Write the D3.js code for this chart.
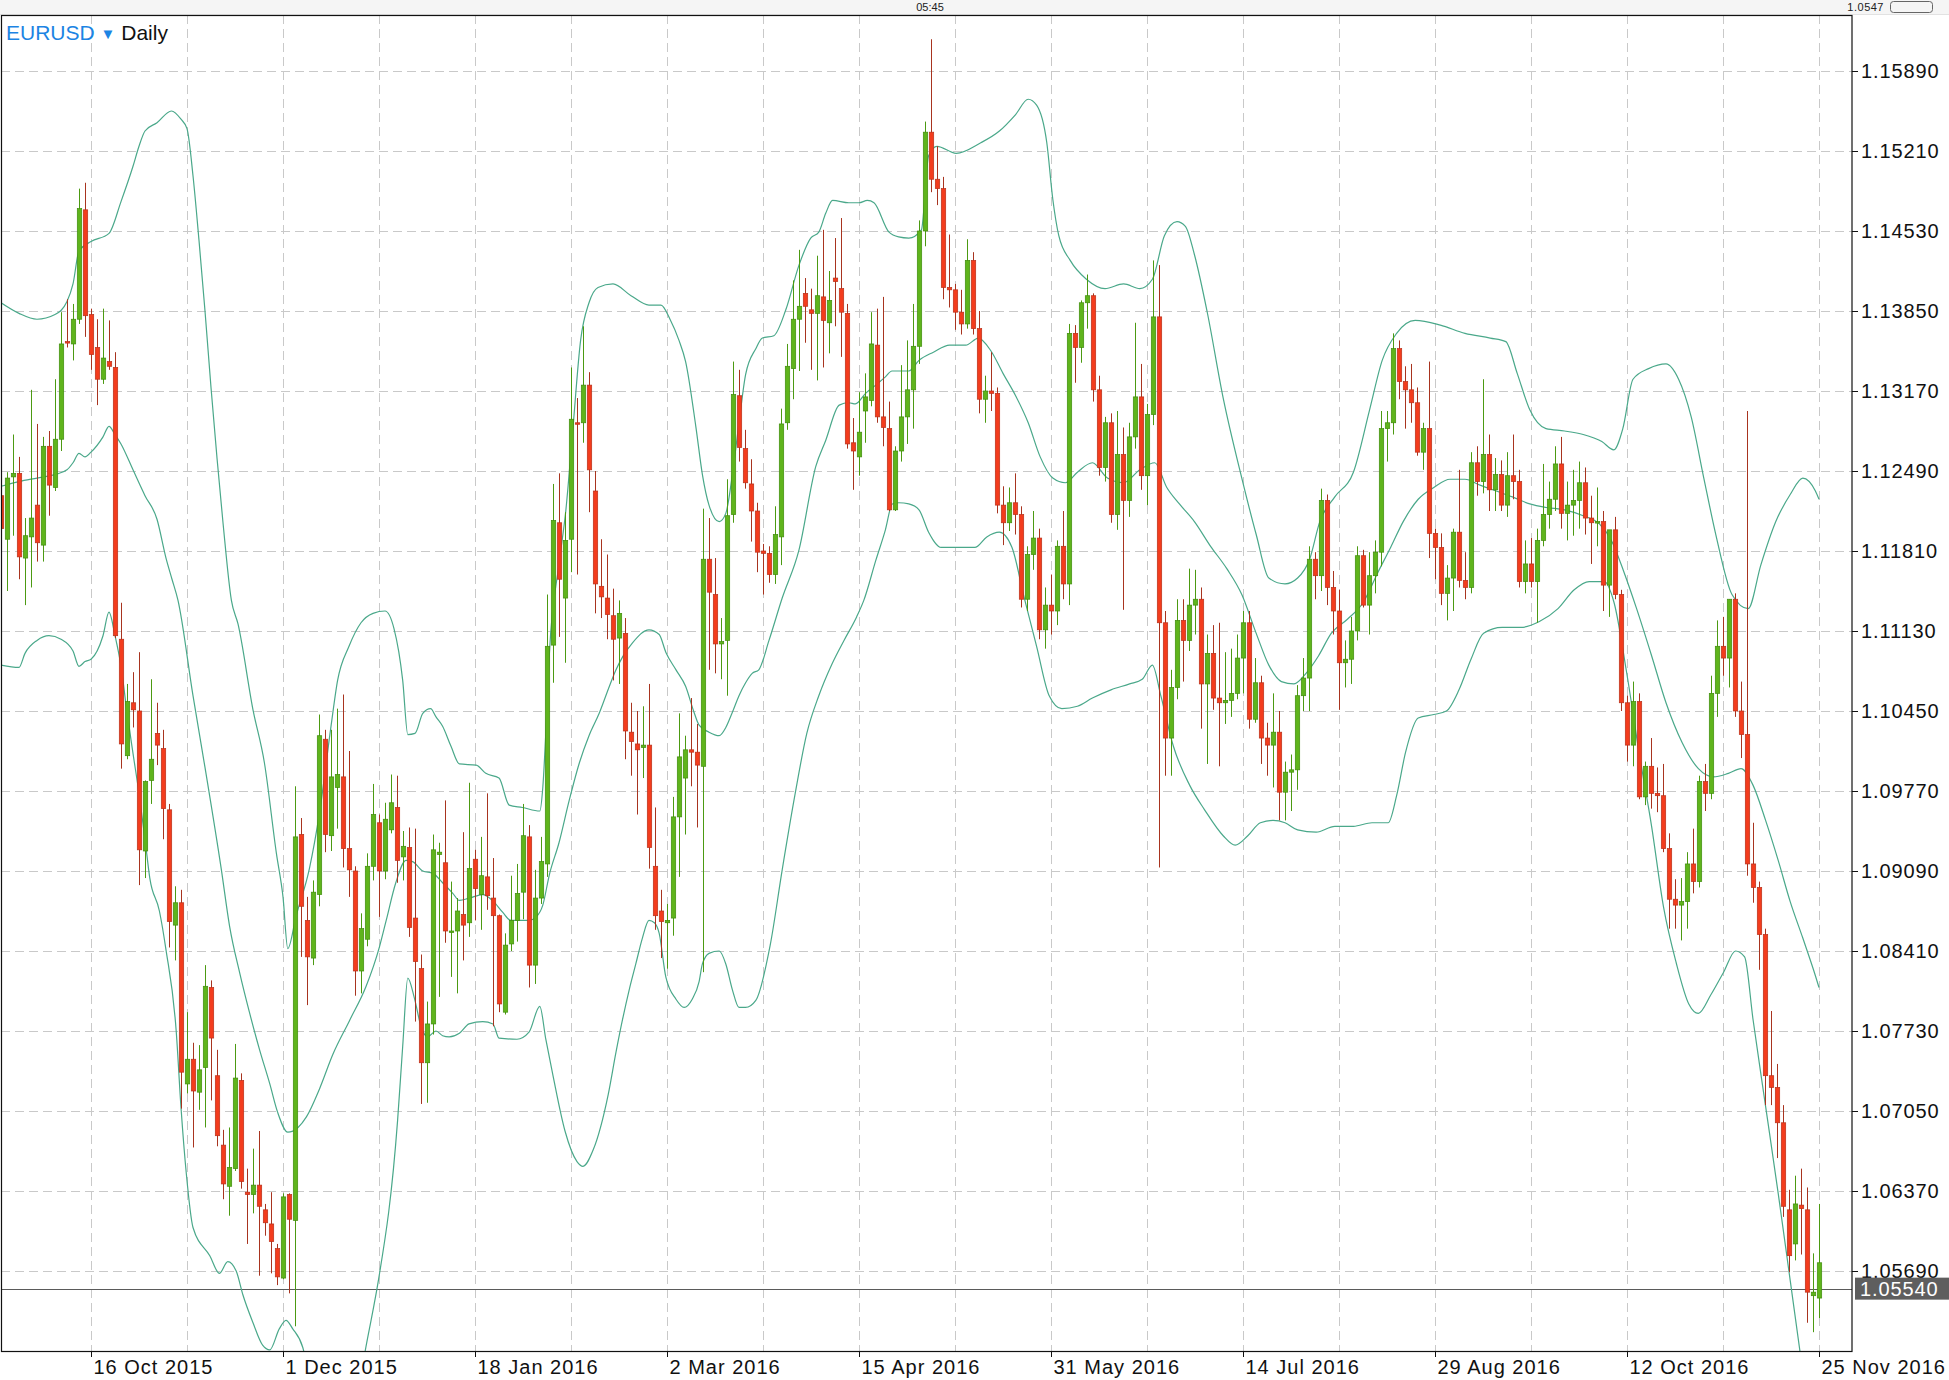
<!DOCTYPE html>
<html><head><meta charset="utf-8">
<script src="https://cdn.jsdelivr.net/npm/d3@7"></script>
<style>html,body{margin:0;padding:0;background:#fff;}svg{display:block;font-family:"Liberation Sans",Arial,sans-serif;}</style>
</head><body><svg id="chart" width="1949" height="1380"></svg>
<script>
const symbol = "EURUSD";
const timeframe = "Daily";
const yTicks = [1.15890,1.15210,1.14530,1.13850,1.13170,1.12490,1.11810,1.11130,1.10450,1.09770,1.09090,1.08410,1.07730,1.07050,1.06370,1.05690];
const xTickBars = [15,47,79,111,143,175,207,239,271,303];
const xTickLabels = ["16 Oct 2015","1 Dec 2015","18 Jan 2016","2 Mar 2016","15 Apr 2016","31 May 2016","14 Jul 2016","29 Aug 2016","12 Oct 2016","25 Nov 2016"];
const lastPrice = 1.05540;
const headerTime = "05:45";
const headerPrice = "1.0547";
// daily candles [open, high, low, close], 25 Sep 2015 .. 25 Nov 2016
const candles = [
[1.1228,1.1241,1.1118,1.1200],[1.1191,1.1248,1.1147,1.1243],[1.1244,1.1280,1.1194,1.1247],[1.1247,1.1261,1.1157,1.1176],[1.1175,1.1209,1.1135,1.1194],
[1.1193,1.1318,1.1150,1.1209],[1.1220,1.1289,1.1172,1.1188],[1.1186,1.1278,1.1172,1.1270],[1.1270,1.1283,1.1211,1.1237],[1.1235,1.1327,1.1232,1.1276],
[1.1276,1.1384,1.1266,1.1357],[1.1359,1.1395,1.1354,1.1358],[1.1357,1.1391,1.1343,1.1378],[1.1378,1.1489,1.1374,1.1472],[1.1471,1.1494,1.1363,1.1381],
[1.1382,1.1387,1.1335,1.1348],[1.1354,1.1378,1.1305,1.1327],[1.1327,1.1387,1.1323,1.1345],[1.1342,1.1377,1.1335,1.1338],[1.1337,1.1350,1.1107,1.1109],
[1.1106,1.1137,1.0996,1.1017],[1.1007,1.1068,1.1004,1.1053],[1.1052,1.1078,1.1031,1.1046],[1.1045,1.1095,1.0897,1.0927],[1.0926,1.0986,1.0903,1.0985],
[1.0986,1.1072,1.0966,1.1004],[1.1026,1.1052,1.0999,1.1016],[1.1013,1.1029,1.0936,1.0962],[1.0961,1.0966,1.0844,1.0866],[1.0863,1.0896,1.0833,1.0882],
[1.0882,1.0893,1.0707,1.0738],[1.0728,1.0789,1.0720,1.0749],[1.0749,1.0763,1.0674,1.0722],[1.0721,1.0761,1.0706,1.0740],[1.0742,1.0829,1.0691,1.0811],
[1.0810,1.0816,1.0714,1.0767],[1.0735,1.0757,1.0675,1.0684],[1.0676,1.0689,1.0630,1.0643],[1.0641,1.0691,1.0616,1.0657],[1.0656,1.0762,1.0654,1.0733],
[1.0731,1.0737,1.0639,1.0645],[1.0636,1.0656,1.0592,1.0634],[1.0634,1.0673,1.0618,1.0642],[1.0642,1.0688,1.0565,1.0624],[1.0621,1.0626,1.0599,1.0610],
[1.0609,1.0636,1.0567,1.0594],[1.0588,1.0592,1.0557,1.0564],[1.0563,1.0635,1.0562,1.0632],[1.0634,1.0635,1.0550,1.0613],[1.0612,1.0981,1.0522,1.0938],
[1.0940,1.0954,1.0836,1.0879],[1.0867,1.0887,1.0795,1.0836],[1.0835,1.0901,1.0829,1.0891],[1.0889,1.1042,1.0879,1.1024],[1.1021,1.1029,1.0925,1.0940],
[1.0939,1.1029,1.0926,1.0989],[1.0980,1.1047,1.0945,1.0991],[1.0989,1.1059,1.0912,1.0928],[1.0928,1.1011,1.0887,1.0910],[1.0909,1.0913,1.0803,1.0824],
[1.0824,1.0873,1.0805,1.0860],[1.0851,1.0924,1.0845,1.0913],[1.0913,1.0983,1.0901,1.0957],[1.0950,1.0957,1.0870,1.0909],[1.0909,1.0967,1.0902,1.0953],
[1.0944,1.0991,1.0941,1.0967],[1.0963,1.0990,1.0899,1.0918],[1.0921,1.0943,1.0901,1.0930],[1.0929,1.0946,1.0853,1.0861],[1.0869,1.0945,1.0781,1.0832],
[1.0826,1.0838,1.0711,1.0746],[1.0746,1.0798,1.0712,1.0779],[1.0779,1.0940,1.0770,1.0927],[1.0923,1.0933,1.0802,1.0925],[1.0916,1.0969,1.0848,1.0858],
[1.0857,1.0900,1.0819,1.0858],[1.0858,1.0886,1.0805,1.0875],[1.0872,1.0942,1.0833,1.0863],[1.0865,1.0984,1.0853,1.0911],[1.0919,1.0927,1.0867,1.0894],
[1.0889,1.0938,1.0859,1.0905],[1.0904,1.0975,1.0876,1.0888],[1.0886,1.0920,1.0777,1.0871],[1.0871,1.0872,1.0789,1.0796],[1.0789,1.0856,1.0787,1.0846],
[1.0847,1.0905,1.0841,1.0867],[1.0867,1.0915,1.0849,1.0890],[1.0891,1.0966,1.0868,1.0939],[1.0938,1.0948,1.0810,1.0829],[1.0829,1.0910,1.0813,1.0886],
[1.0886,1.0938,1.0881,1.0917],[1.0915,1.1144,1.0904,1.1100],[1.1101,1.1238,1.1069,1.1207],[1.1205,1.1247,1.1108,1.1157],[1.1141,1.1214,1.1086,1.1190],
[1.1191,1.1337,1.1163,1.1293],[1.1290,1.1311,1.1161,1.1289],[1.1290,1.1372,1.1273,1.1322],[1.1322,1.1333,1.1214,1.1250],[1.1232,1.1249,1.1128,1.1153],
[1.1151,1.1191,1.1124,1.1142],[1.1141,1.1178,1.1106,1.1127],[1.1126,1.1149,1.1071,1.1106],[1.1107,1.1139,1.1068,1.1128],[1.1111,1.1124,1.1004,1.1028],
[1.1027,1.1052,1.0990,1.1019],[1.1017,1.1045,1.0957,1.1012],[1.1014,1.1049,1.0988,1.1016],[1.1016,1.1068,1.0911,1.0929],[1.0913,1.0963,1.0859,1.0871],
[1.0875,1.0893,1.0835,1.0866],[1.0865,1.0881,1.0826,1.0867],[1.0869,1.0972,1.0854,1.0955],[1.0955,1.1043,1.0904,1.1006],[1.0988,1.1024,1.0940,1.1012],
[1.1012,1.1056,1.0981,1.1010],[1.1010,1.1034,1.0946,1.0999],[1.0998,1.1217,1.0823,1.1174],[1.1174,1.1209,1.1080,1.1146],[1.1144,1.1175,1.1077,1.1102],
[1.1102,1.1124,1.1072,1.1104],[1.1105,1.1242,1.1058,1.1211],[1.1212,1.1342,1.1205,1.1314],[1.1313,1.1335,1.1257,1.1269],[1.1268,1.1284,1.1234,1.1239],
[1.1238,1.1259,1.1189,1.1215],[1.1215,1.1222,1.1163,1.1180],[1.1181,1.1187,1.1144,1.1179],[1.1179,1.1185,1.1154,1.1161],[1.1161,1.1219,1.1153,1.1195],
[1.1193,1.1302,1.1169,1.1289],[1.1290,1.1357,1.1284,1.1338],[1.1336,1.1411,1.1310,1.1378],[1.1378,1.1437,1.1334,1.1389],[1.1400,1.1413,1.1358,1.1389],
[1.1386,1.1404,1.1335,1.1383],[1.1383,1.1432,1.1326,1.1398],[1.1397,1.1454,1.1337,1.1377],[1.1375,1.1419,1.1349,1.1394],[1.1413,1.1447,1.1372,1.1410],
[1.1404,1.1464,1.1346,1.1384],[1.1383,1.1391,1.1268,1.1272],[1.1273,1.1294,1.1233,1.1266],[1.1261,1.1316,1.1245,1.1282],[1.1300,1.1332,1.1273,1.1312],
[1.1309,1.1384,1.1304,1.1357],[1.1356,1.1387,1.1290,1.1295],[1.1295,1.1397,1.1270,1.1286],[1.1285,1.1308,1.1215,1.1216],[1.1216,1.1270,1.1215,1.1266],
[1.1266,1.1339,1.1257,1.1295],[1.1295,1.1360,1.1272,1.1318],[1.1318,1.1391,1.1285,1.1355],[1.1355,1.1462,1.1340,1.1453],[1.1453,1.1546,1.1440,1.1537],
[1.1537,1.1616,1.1486,1.1497],[1.1497,1.1525,1.1475,1.1489],[1.1489,1.1499,1.1395,1.1405],[1.1405,1.1450,1.1388,1.1403],[1.1403,1.1408,1.1369,1.1384],
[1.1384,1.1403,1.1365,1.1374],[1.1374,1.1446,1.1370,1.1428],[1.1428,1.1435,1.1365,1.1370],[1.1370,1.1385,1.1298,1.1310],[1.1310,1.1330,1.1290,1.1317],
[1.1317,1.1350,1.1300,1.1315],[1.1315,1.1320,1.1213,1.1220],[1.1220,1.1236,1.1186,1.1205],[1.1205,1.1235,1.1198,1.1222],[1.1222,1.1247,1.1195,1.1212],
[1.1212,1.1219,1.1133,1.1140],[1.1140,1.1185,1.1130,1.1178],[1.1178,1.1215,1.1165,1.1192],[1.1192,1.1200,1.1106,1.1114],[1.1114,1.1150,1.1098,1.1135],
[1.1135,1.1161,1.1110,1.1130],[1.1130,1.1190,1.1118,1.1185],[1.1185,1.1215,1.1140,1.1153],[1.1153,1.1374,1.1135,1.1366],[1.1366,1.1373,1.1324,1.1354],
[1.1354,1.1394,1.1341,1.1392],[1.1392,1.1416,1.1370,1.1398],[1.1398,1.1400,1.1308,1.1318],[1.1318,1.1330,1.1245,1.1252],[1.1252,1.1295,1.1240,1.1290],
[1.1290,1.1298,1.1205,1.1212],[1.1212,1.1300,1.1199,1.1263],[1.1263,1.1286,1.1131,1.1224],[1.1224,1.1290,1.1210,1.1278],[1.1278,1.1375,1.1268,1.1312],
[1.1312,1.1340,1.1233,1.1245],[1.1245,1.1306,1.1220,1.1297],[1.1297,1.1428,1.1288,1.1380],[1.1380,1.1424,1.0912,1.1120],[1.1120,1.1130,1.0990,1.1022],
[1.1022,1.1080,1.0990,1.1065],[1.1065,1.1140,1.1055,1.1122],[1.1122,1.1140,1.1070,1.1105],[1.1105,1.1166,1.1096,1.1135],[1.1135,1.1165,1.1110,1.1140],
[1.1140,1.1150,1.1030,1.1068],[1.1068,1.1110,1.1000,1.1094],[1.1094,1.1118,1.1046,1.1056],[1.1056,1.1120,1.0998,1.1052],[1.1052,1.1095,1.1034,1.1054],
[1.1054,1.1098,1.1040,1.1060],[1.1060,1.1110,1.1055,1.1090],[1.1090,1.1130,1.1060,1.1120],[1.1120,1.1130,1.1030,1.1038],[1.1038,1.1090,1.1035,1.1069],
[1.1069,1.1075,1.1000,1.1022],[1.1022,1.1035,1.0990,1.1016],[1.1016,1.1060,1.0980,1.1027],[1.1027,1.1045,1.0952,1.0976],[1.0976,1.1002,1.0952,1.0993],
[1.0993,1.1008,1.0960,1.0995],[1.0995,1.1067,1.0978,1.1058],[1.1058,1.1090,1.1045,1.1073],[1.1073,1.1185,1.1045,1.1174],[1.1174,1.1180,1.1140,1.1160],
[1.1160,1.1234,1.1147,1.1224],[1.1224,1.1229,1.1135,1.1150],[1.1150,1.1164,1.1110,1.1130],[1.1130,1.1148,1.1046,1.1086],[1.1086,1.1105,1.1065,1.1089],
[1.1089,1.1125,1.1068,1.1113],[1.1113,1.1185,1.1105,1.1177],[1.1177,1.1182,1.1133,1.1135],[1.1135,1.1180,1.1110,1.1160],[1.1160,1.1190,1.1145,1.1180],
[1.1180,1.1300,1.1168,1.1285],[1.1285,1.1300,1.1257,1.1290],[1.1290,1.1366,1.1280,1.1353],[1.1353,1.1360,1.1310,1.1325],[1.1325,1.1338,1.1285,1.1318],
[1.1318,1.1340,1.1290,1.1307],[1.1307,1.1320,1.1262,1.1265],[1.1265,1.1290,1.1250,1.1285],[1.1285,1.1342,1.1175,1.1196],[1.1196,1.1200,1.1157,1.1184],
[1.1184,1.1196,1.1135,1.1145],[1.1145,1.1169,1.1122,1.1158],[1.1158,1.1200,1.1130,1.1197],[1.1197,1.1250,1.1150,1.1156],[1.1156,1.1180,1.1140,1.1150],
[1.1150,1.1265,1.1145,1.1256],[1.1256,1.1270,1.1228,1.1240],[1.1240,1.1327,1.1230,1.1263],[1.1263,1.1280,1.1215,1.1233],[1.1233,1.1260,1.1215,1.1246],
[1.1246,1.1258,1.1215,1.1220],[1.1220,1.1265,1.1210,1.1245],[1.1245,1.1280,1.1225,1.1240],[1.1240,1.1250,1.1150,1.1155],[1.1155,1.1190,1.1145,1.1170],
[1.1170,1.1192,1.1150,1.1155],[1.1155,1.1200,1.1120,1.1190],[1.1190,1.1255,1.1185,1.1212],[1.1212,1.1240,1.1200,1.1225],[1.1225,1.1270,1.1215,1.1255],
[1.1255,1.1278,1.1200,1.1213],[1.1213,1.1240,1.1190,1.1220],[1.1220,1.1250,1.1194,1.1224],[1.1224,1.1257,1.1200,1.1239],[1.1239,1.1252,1.1195,1.1209],
[1.1209,1.1228,1.1170,1.1205],[1.1205,1.1235,1.1185,1.1206],[1.1206,1.1215,1.1130,1.1152],[1.1152,1.1195,1.1125,1.1199],[1.1199,1.1210,1.1140,1.1144],
[1.1144,1.1148,1.1045,1.1052],[1.1052,1.1058,1.1002,1.1016],[1.1016,1.1070,1.0998,1.1053],[1.1053,1.1060,1.0970,1.0972],[1.0972,1.1002,1.0965,1.0998],
[1.0998,1.1022,1.0962,1.0975],[1.0975,1.0997,1.0959,1.0973],[1.0973,1.1000,1.0925,1.0928],[1.0928,1.0941,1.0860,1.0885],[1.0885,1.0902,1.0860,1.0880],
[1.0880,1.0903,1.0850,1.0883],[1.0883,1.0925,1.0860,1.0915],[1.0915,1.0945,1.0890,1.0900],[1.0900,1.0990,1.0895,1.0985],[1.0985,1.1000,1.0960,1.0975],
[1.0975,1.1075,1.0970,1.1060],[1.1060,1.1122,1.1040,1.1100],[1.1100,1.1125,1.1075,1.1090],[1.1090,1.1140,1.1065,1.1140],[1.1140,1.1145,1.1040,1.1045],
[1.1045,1.1070,1.1005,1.1025],[1.1025,1.1300,1.0905,1.0915],[1.0915,1.0950,1.0882,1.0895],[1.0895,1.0900,1.0825,1.0855],[1.0855,1.0860,1.0710,1.0735],
[1.0735,1.0790,1.0710,1.0725],[1.0725,1.0745,1.0665,1.0695],[1.0695,1.0710,1.0615,1.0624],[1.0621,1.0638,1.0568,1.0582],[1.0592,1.0650,1.0578,1.0626],
[1.0625,1.0656,1.0583,1.0622],[1.0621,1.0640,1.0525,1.0551],[1.0548,1.0584,1.0517,1.0551],[1.0546,1.0626,1.0529,1.0576]
];
// Bollinger bands: [bar index, value]
const bbUpper = [[0,1.1392],[3,1.1383],[6,1.1378],[9,1.1382],[11,1.1393],[12,1.1408],[13,1.1436],[15,1.1444],[18,1.1451],[20,1.1478],[22,1.1508],[23,1.1525],[24,1.1538],[26,1.1545],[28.4,1.1555],[30,1.1548],[31,1.1540],[32,1.1500],[33,1.1445],[34,1.1385],[35,1.1320],[36,1.1260],[37,1.1205],[38.4,1.1139],[39.5,1.1119],[42,1.1046],[43.9,1.1001],[45.9,1.0924],[47,1.0887],[47.8,1.0843],[49.2,1.0871],[51.4,1.0911],[53.1,1.0959],[55,1.1032],[56.1,1.1071],[58,1.1100],[60,1.1120],[62,1.1128],[64,1.1130],[65.5,1.1115],[66.95,1.1071],[67.8,1.1025],[69,1.1026],[70.3,1.1043],[71.6,1.1047],[72.5,1.1040],[73.6,1.1032],[75,1.1015],[76.4,1.1000],[79.2,1.0999],[80.8,1.0992],[83,1.0988],[84.7,1.0965],[86.9,1.0963],[89.8,1.0960],[90.3,1.0980],[90.9,1.1037],[91.4,1.1094],[93,1.1170],[94.15,1.1216],[95.3,1.1284],[96.6,1.1360],[98,1.1392],[99.5,1.1405],[102,1.1408],[105,1.1398],[108,1.1390],[110,1.1390],[111.5,1.1378],[113,1.1360],[114.1,1.1342],[115.8,1.1287],[116.9,1.1246],[118,1.1220],[119.7,1.1206],[120.8,1.1213],[122,1.1250],[123,1.1290],[124.1,1.1331],[125.8,1.1353],[126.9,1.1362],[128.8,1.1364],[130.8,1.1386],[133,1.1424],[134.95,1.1447],[136.3,1.1452],[137.45,1.1468],[138.6,1.1479],[141.3,1.1477],[143,1.1477],[144.4,1.1479],[145.5,1.1477],[148,1.1452],[149.6,1.1448],[151.3,1.1447],[153.4,1.1454],[154.6,1.1517],[156,1.1525],[159.2,1.1519],[163.3,1.1528],[166.4,1.1538],[169.1,1.1552],[171.2,1.1565],[172.6,1.1560],[174.3,1.1528],[175.3,1.1480],[176.3,1.1449],[178.2,1.1428],[180.9,1.1412],[184,1.1404],[187.1,1.1408],[189.8,1.1404],[191.9,1.1412],[193.9,1.1449],[196,1.1461],[197.4,1.1457],[198.9,1.1433],[201,1.1385],[203.7,1.1311],[206.8,1.1243],[209.2,1.1195],[211.3,1.1158],[214,1.1153],[216.1,1.1158],[218.1,1.1174],[219.8,1.1206],[222.3,1.1227],[225.4,1.1248],[228.1,1.1301],[230.2,1.1343],[232.6,1.1366],[235.7,1.1377],[239.9,1.1373],[244,1.1366],[248.2,1.1362],[250.8,1.1359],[252.7,1.1332],[254.8,1.1301],[257.5,1.1285],[260.6,1.1283],[263.7,1.1280],[266.8,1.1274],[268.8,1.1267],[270.3,1.1285],[272,1.1327],[274.6,1.1336],[277.5,1.1340],[279.6,1.1327],[281.7,1.1295],[283.8,1.1243],[285.8,1.1195],[288.5,1.1144],[291.2,1.1132],[293.3,1.1169],[295.8,1.1206],[298.2,1.1229],[300.3,1.1243],[302.4,1.1232],[303,1.1225]];
const bbMiddle = [[0,1.1236],[3,1.1240],[6,1.1243],[9,1.1246],[11,1.1250],[12,1.1256],[13,1.1264],[14,1.1261],[15,1.1265],[17,1.1278],[18,1.1287],[19,1.1280],[20,1.1272],[22,1.1250],[24,1.1228],[26,1.1208],[27.5,1.1175],[28.5,1.1157],[29.5,1.1139],[32,1.1058],[34,1.0997],[36.7,1.0911],[38.1,1.0862],[39.8,1.0822],[41.4,1.0789],[43.1,1.0757],[44.8,1.0728],[46.1,1.0704],[47.8,1.0687],[49.5,1.0691],[50.9,1.0700],[53.1,1.0724],[55.3,1.0753],[58.1,1.0782],[60.85,1.0811],[63.1,1.0845],[64.2,1.0867],[65.8,1.0899],[67.5,1.0918],[68.6,1.0917],[70.3,1.0909],[72,1.0907],[73.6,1.0899],[75.3,1.0890],[76.4,1.0884],[78.05,1.0886],[80.3,1.0889],[81.9,1.0884],[83.6,1.0874],[85,1.0867],[88,1.0867],[89.2,1.0870],[90.3,1.0880],[91.4,1.0906],[93,1.0933],[94.7,1.0969],[96.4,1.1001],[98,1.1024],[99.7,1.1043],[101.4,1.1066],[102.5,1.1080],[103.6,1.1091],[105.25,1.1103],[108,1.1114],[109.7,1.1110],[110.8,1.1095],[112.5,1.1080],[114.1,1.1066],[115.5,1.1044],[116.35,1.1033],[118,1.1027],[119.7,1.1024],[120.8,1.1031],[121.9,1.1044],[123,1.1058],[124.1,1.1069],[125.2,1.1077],[126.3,1.1080],[128,1.1105],[130.2,1.1141],[133,1.1182],[135.8,1.1253],[137.45,1.1275],[139.7,1.1305],[141.3,1.1307],[142.4,1.1306],[144.1,1.1315],[145.8,1.1322],[147.4,1.1329],[148.5,1.1334],[151.3,1.1334],[153,1.1343],[155.4,1.1350],[158.1,1.1356],[160.8,1.1356],[162.9,1.1362],[165,1.1351],[167,1.1332],[169.1,1.1313],[171.2,1.1290],[173.2,1.1261],[175.3,1.1243],[177.4,1.1239],[179.4,1.1248],[181.9,1.1256],[184.4,1.1243],[187.1,1.1239],[189.8,1.1250],[192.3,1.1256],[194.3,1.1235],[196.4,1.1221],[198.9,1.1206],[201.6,1.1185],[204.3,1.1166],[206.8,1.1144],[209.2,1.1111],[211.3,1.1084],[213.4,1.1070],[215.5,1.1068],[217.5,1.1077],[219.6,1.1092],[221.7,1.1111],[224.4,1.1123],[227,1.1137],[229.5,1.1163],[231.6,1.1184],[233.7,1.1206],[236.2,1.1225],[238.8,1.1235],[241.5,1.1242],[244,1.1242],[246.5,1.1237],[249.2,1.1232],[251.9,1.1227],[254.8,1.1221],[257.5,1.1218],[260.6,1.1216],[263.7,1.1211],[266.4,1.1204],[268.4,1.1190],[270.5,1.1163],[272.6,1.1132],[275.1,1.1092],[277.5,1.1052],[280.2,1.1018],[282.9,1.0996],[285.4,1.0989],[287.9,1.0992],[290,1.0996],[292,1.0982],[294.1,1.0952],[296.2,1.0918],[298.2,1.0883],[300.3,1.0852],[302.4,1.0820],[303,1.0810]];
const bbLower = [[0,1.1084],[3,1.1082],[4,1.1094],[6,1.1105],[8,1.1109],[10,1.1106],[12,1.1096],[13,1.1083],[14,1.1087],[15,1.1089],[17,1.1109],[18,1.1129],[19,1.1109],[20,1.1083],[21,1.1044],[22,1.1009],[23,1.0975],[24,1.0936],[24.8,1.0903],[26.4,1.0875],[27.5,1.0842],[29.2,1.0773],[30,1.0708],[30.9,1.0651],[32,1.0606],[34.8,1.0582],[36.4,1.0567],[37.8,1.0577],[39.2,1.0569],[40.3,1.0549],[42,1.0525],[43.6,1.0506],[44.8,1.0502],[46.4,1.0520],[47.5,1.0527],[48.6,1.0520],[50.3,1.0504],[52,1.0460],[55,1.0400],[58,1.0410],[60.7,1.0501],[61.9,1.0533],[62.9,1.0561],[66.1,1.0697],[66.95,1.0760],[67.8,1.0818],[68.9,1.0801],[70,1.0777],[71.1,1.0768],[72.5,1.0773],[73.6,1.0769],[74.7,1.0768],[76.4,1.0771],[78,1.0779],[80.3,1.0781],[82,1.0779],[83,1.0767],[86,1.0766],[88,1.0772],[89.8,1.0794],[90.8,1.0766],[92,1.0735],[94,1.0688],[96,1.0662],[97,1.0658],[98.7,1.0672],[101.2,1.0719],[102.5,1.0755],[103.6,1.0783],[104.7,1.0808],[105.8,1.0830],[106.9,1.0852],[108,1.0867],[108.9,1.0865],[109.7,1.0856],[110.8,1.0819],[112.5,1.0800],[113.85,1.0793],[115.2,1.0800],[116.35,1.0815],[116.9,1.0830],[118,1.0839],[119.7,1.0841],[120.8,1.0830],[121.9,1.0808],[123,1.0793],[124.1,1.0793],[125.8,1.0799],[128.2,1.0846],[130.2,1.0910],[132.3,1.0973],[134.3,1.1026],[136.3,1.1058],[138.5,1.1085],[140.5,1.1105],[142.6,1.1125],[143.8,1.1139],[145.8,1.1173],[147.4,1.1199],[148.55,1.1221],[149.65,1.1222],[151.3,1.1221],[153,1.1216],[154.6,1.1197],[156.7,1.1184],[159.2,1.1184],[162.3,1.1184],[164.3,1.1193],[166.4,1.1197],[168.5,1.1184],[170.5,1.1142],[172.6,1.1100],[174.7,1.1058],[176.8,1.1047],[179.4,1.1049],[181.9,1.1056],[185,1.1063],[188.1,1.1068],[190.2,1.1072],[191.9,1.1084],[193.3,1.1058],[195.4,1.1015],[198.1,1.0982],[200.6,1.0961],[203.7,1.0939],[205.7,1.0931],[207.8,1.0939],[209.9,1.0950],[212,1.0952],[214,1.0950],[216.1,1.0944],[219.2,1.0942],[222.3,1.0947],[225.4,1.0947],[228.5,1.0950],[231.2,1.0950],[232.6,1.0973],[234.1,1.1010],[236.2,1.1039],[238.8,1.1042],[240.9,1.1045],[243,1.1063],[245,1.1089],[247.1,1.1111],[250.2,1.1116],[253.3,1.1116],[256.4,1.1121],[259.5,1.1132],[262.2,1.1148],[264.7,1.1155],[267.2,1.1155],[268.85,1.1137],[270.9,1.1079],[273,1.1010],[275.1,1.0947],[277.1,1.0878],[279.2,1.0831],[281.3,1.0796],[282.9,1.0788],[285,1.0804],[287.1,1.0823],[289.1,1.0841],[290.6,1.0836],[292,1.0783],[294.1,1.0709],[296.2,1.0635],[298.2,1.0561],[299.9,1.0498],[303,1.0380]];

const svg = d3.select("#chart");
const W = 1949, H = 1380, L = 1, T = 15, R = 1852, B = 1351;
const x = d3.scaleLinear().domain([0, candles.length - 1]).range([1, 1819]);
const y = d3.scaleLinear().domain([1.05690, 1.15890]).range([1271, 71]);

svg.append("rect").attr("width", W).attr("height", H).attr("fill", "#fff");
// top strip (header bar of the platform window)
svg.append("rect").attr("x",0).attr("y",0).attr("width",W).attr("height",14).attr("fill","#f5f5f5");
svg.append("line").attr("x1",0).attr("x2",W).attr("y1",14.5).attr("y2",14.5).attr("stroke","#e2e2e2");
svg.append("text").attr("x",930).attr("y",11).attr("text-anchor","middle").attr("font-size",11).attr("fill","#222").text(headerTime);
svg.append("text").attr("x",1884).attr("y",11).attr("text-anchor","end").attr("font-size",11).attr("fill","#222").attr("letter-spacing",0.5).text(headerPrice);
svg.append("rect").attr("x",1890.5).attr("y",1.5).attr("width",42).attr("height",11).attr("rx",3).attr("fill","none").attr("stroke","#666");

const defs = svg.append("defs");
defs.append("clipPath").attr("id","plot").append("rect").attr("x",L).attr("y",T).attr("width",R-L).attr("height",B-T);
const plot = svg.append("g").attr("clip-path","url(#plot)");

// grid
const gridBars = d3.range(15, candles.length, 16);
plot.append("g").selectAll("line").data(gridBars).join("line")
  .attr("x1", d => Math.round(x(d)) + 0.5).attr("x2", d => Math.round(x(d)) + 0.5)
  .attr("y1", T).attr("y2", B).attr("stroke", "#c9c9c9").attr("stroke-dasharray", "9,5");
plot.append("g").selectAll("line").data(yTicks).join("line")
  .attr("x1", L).attr("x2", R).attr("y1", d => Math.round(y(d)) + 0.5).attr("y2", d => Math.round(y(d)) + 0.5)
  .attr("stroke", "#c9c9c9").attr("stroke-dasharray", "9,5");

// last price line
plot.append("line").attr("x1",L).attr("x2",R).attr("y1",Math.round(y(lastPrice))+0.5).attr("y2",Math.round(y(lastPrice))+0.5).attr("stroke","#5a5a5a").attr("stroke-width",1.2);

// Bollinger bands
const band = d3.line().x(d => x(d[0])).y(d => y(d[1])).curve(d3.curveMonotoneX);
[bbUpper, bbMiddle, bbLower].forEach(b => {
  plot.append("path").attr("d", band(b)).attr("fill","none").attr("stroke","#4aa88a").attr("stroke-width",1.2);
});

// candles
const up = "#5fb41c", upEdge = "#3f8c0b", dn = "#f33c1d", dnEdge = "#b8301a";
const cg = plot.append("g");
candles.forEach((c, i) => {
  const [o, h, l, cl] = c;
  const bull = cl >= o;
  const cx = Math.round(x(i)) + 0.5;
  cg.append("line").attr("x1", cx).attr("x2", cx).attr("y1", y(h)).attr("y2", y(l))
    .attr("stroke", bull ? "#4c9a12" : "#a8341f").attr("stroke-width", 1);
  const top = y(Math.max(o, cl)), bot = y(Math.min(o, cl));
  cg.append("rect").attr("x", cx - 2.2).attr("y", top).attr("width", 4.4).attr("height", Math.max(1.5, bot - top))
    .attr("fill", bull ? up : dn).attr("stroke", bull ? upEdge : dnEdge).attr("stroke-width", 0.7);
});

// frame
svg.append("rect").attr("x",L+0.5).attr("y",T+0.5).attr("width",R-L-0.5).attr("height",B-T).attr("fill","none").attr("stroke","#111").attr("stroke-width",1.2);

// right axis
const yAxis = d3.axisRight(y).tickValues(yTicks).tickFormat(d3.format(".5f")).tickSize(6).tickPadding(3);
const ya = svg.append("g").attr("transform", `translate(${R},0)`).call(yAxis);
ya.select(".domain").remove();
ya.selectAll("line").attr("stroke","#111");
ya.selectAll("text").attr("font-size",20).attr("fill","#111").attr("letter-spacing",0.9).attr("font-family","Liberation Sans, Arial, sans-serif");

// bottom axis
const xAxis = d3.axisBottom(x).tickValues(xTickBars).tickFormat((d, i) => xTickLabels[i]).tickSize(6).tickPadding(3);
const xa = svg.append("g").attr("transform", `translate(0,${B})`).call(xAxis);
xa.select(".domain").remove();
xa.selectAll("line").attr("stroke","#111");
xa.selectAll("text").attr("font-size",20).attr("fill","#111").attr("text-anchor","start").attr("x",2).attr("letter-spacing",1).attr("font-family","Liberation Sans, Arial, sans-serif");

// last price label
const ly = y(lastPrice);
svg.append("rect").attr("x",1855).attr("y",ly-11).attr("width",W-1855).attr("height",22).attr("fill","#5e5e5e");
svg.append("text").attr("x",1860).attr("y",ly+7.5).attr("font-size",20).attr("fill","#fff").attr("letter-spacing",0.9).text(d3.format(".5f")(lastPrice));

// title
const title = svg.append("text").attr("x",6).attr("y",40).attr("font-size",21);
title.append("tspan").attr("fill","#1c84e3").text(symbol + " ");
title.append("tspan").attr("fill","#1c84e3").attr("font-size",15).attr("dy",-1).text("▼");
title.append("tspan").attr("fill","#111").attr("dy",1).text(" " + timeframe);
</script></body></html>
